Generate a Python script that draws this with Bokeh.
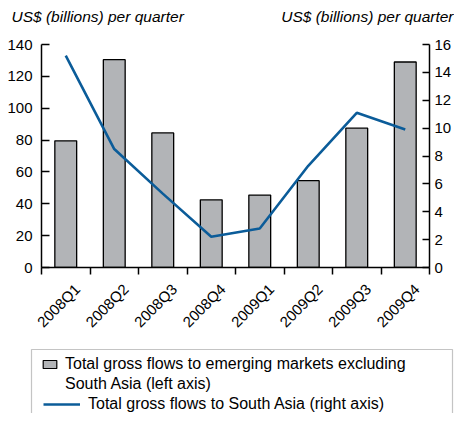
import math
import numpy as np
from bokeh.plotting import figure
from bokeh.layouts import column
from bokeh.models import (Range1d, LinearAxis, FixedTicker, Label, Legend, LegendItem,
                          ColumnDataSource, BoxAnnotation)
from bokeh.embed import file_html
from bokeh.resources import INLINE

categories = ["2008Q1", "2008Q2", "2008Q3", "2008Q4", "2009Q1", "2009Q2", "2009Q3", "2009Q4"]
em_excl_south_asia = [79.5, 130.5, 84.5, 42.5, 45.5, 54.5, 87.5, 129]
south_asia = [15.2, 8.5, 5.3, 2.2, 2.8, 7.3, 11.1, 9.9]
left_ticks = [0, 20, 40, 60, 80, 100, 120, 140]
right_ticks = [0, 2, 4, 6, 8, 10, 12, 14, 16]
unit_label = "US$ (billions) per quarter"
bar_label_1 = "Total gross flows to emerging markets excluding"
bar_label_2 = "South Asia (left axis)"
line_label = "Total gross flows to South Asia (right axis)"

FONT = "Liberation Sans"
BAR_FILL = "#b2b4b7"
LINE_COL = "#0b5c99"
W = 454

# ---------------- header with the two unit labels ----------------
HH = 30
head = figure(width=W, height=HH, output_backend="svg", toolbar_location=None,
              x_range=Range1d(0, W), y_range=Range1d(0, HH), x_axis_type=None, y_axis_type=None,
              min_border=0, outline_line_color=None, frame_align=False)
head.grid.visible = False
for x, align in ((11, "left"), (W - 1, "right")):
    head.add_layout(Label(x=x, y=14, text=unit_label, text_font=FONT, text_font_size="15.5px",
                          text_font_style="italic", text_align=align, text_baseline="alphabetic",
                          text_color="black"))

# ---------------- main chart ----------------
xc = [i + 0.5 for i in range(len(categories))]
label_pos = [x + 0.24 for x in xc]
src = ColumnDataSource(dict(x=xc, bars=em_excl_south_asia, sa=south_asia))

p = figure(width=W, height=310, output_backend="svg", toolbar_location=None,
           x_range=Range1d(0, len(categories)), y_range=Range1d(left_ticks[0], left_ticks[-1]),
           min_border_left=41, min_border_right=24, min_border_top=14, min_border_bottom=73,
           frame_align=False)
p.extra_y_ranges = {"right": Range1d(right_ticks[0], right_ticks[-1])}
p.outline_line_color = None
p.xgrid.visible = False
p.ygrid.visible = False

p.vbar(x="x", top="bars", width=0.45, source=src, fill_color=BAR_FILL,
       line_color="black", line_width=1.3)
p.line(x="x", y="sa", source=src, y_range_name="right", line_color=LINE_COL, line_width=2.6)

xa = p.xaxis[0]
xa.ticker = FixedTicker(ticks=label_pos, minor_ticks=list(range(len(categories) + 1)))
xa.major_label_overrides = {x: c for x, c in zip(label_pos, categories)}
xa.major_label_orientation = math.pi / 4
xa.major_tick_out = 0
xa.major_tick_in = 0
xa.minor_tick_out = 7
xa.minor_tick_in = 0
xa.minor_tick_line_color = "black"
xa.minor_tick_line_width = 1.5
xa.axis_line_width = 1.5
xa.axis_line_color = "black"
xa.major_label_text_font = FONT
xa.major_label_text_font_size = "15px"
xa.major_label_text_color = "black"
xa.major_label_standoff = 12

ya = p.yaxis[0]
ya.ticker = FixedTicker(ticks=left_ticks)
ya.major_tick_in = 8
ya.major_tick_out = 0
ya.minor_tick_line_color = None
ya.axis_line_width = 1.5
ya.major_tick_line_width = 1.5
ya.axis_line_color = "black"
ya.major_label_text_font = FONT
ya.major_label_text_font_size = "15px"
ya.major_label_text_color = "black"
ya.major_label_standoff = 9

ra = LinearAxis(y_range_name="right", ticker=FixedTicker(ticks=right_ticks))
ra.major_tick_in = 7
ra.major_tick_out = 0
ra.minor_tick_line_color = None
ra.axis_line_width = 1.5
ra.major_tick_line_width = 1.5
ra.axis_line_color = "black"
ra.major_label_text_font = FONT
ra.major_label_text_font_size = "15px"
ra.major_label_text_color = "black"
ra.major_label_standoff = 5
p.add_layout(ra, "right")

# ---------------- legend panel ----------------
LH = 413 - HH - 310
leg = figure(width=W, height=LH, output_backend="svg", toolbar_location=None,
             x_range=Range1d(0, W), y_range=Range1d(0, LH), x_axis_type=None, y_axis_type=None,
             min_border=0, outline_line_color=None, frame_align=False)
leg.grid.visible = False
leg.add_layout(BoxAnnotation(left=31, right=452, bottom=-10, top=LH - 9, fill_alpha=0,
                             line_color="#3a3a3a", line_width=1.2))
nan = np.array([np.nan])
bar_key = leg.vbar(x=nan, top=nan, width=1, fill_color=BAR_FILL, line_color="black", line_width=1.2)
blank_key = leg.vbar(x=nan, top=nan, width=1, fill_alpha=0, line_alpha=0)
line_key = leg.line(x=nan, y=nan, line_color=LINE_COL, line_width=2.6)

common = dict(label_text_font=FONT, label_text_font_size="16px", label_text_color="black",
              border_line_color=None, background_fill_alpha=0, padding=0, margin=0,
              label_height=18, spacing=2)
legA = Legend(items=[LegendItem(label=bar_label_1, renderers=[bar_key]),
                     LegendItem(label=bar_label_2, renderers=[blank_key])],
              location=(41, 20), glyph_width=17, glyph_height=10, label_standoff=7, **common)
legB = Legend(items=[LegendItem(label=line_label, renderers=[line_key])],
              location=(43, 0), glyph_width=37, glyph_height=18, label_standoff=8, **common)
leg.add_layout(legA, "center")
leg.add_layout(legB, "center")

open("out.html", "w").write(file_html(column(head, p, leg, spacing=0), INLINE))
